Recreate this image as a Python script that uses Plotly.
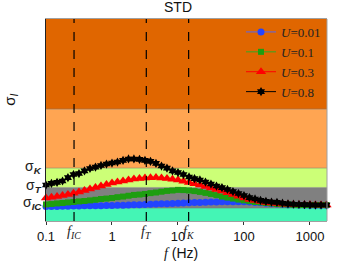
import math
import plotly.graph_objects as go

# ---------------- data ----------------
freq = [0.1, 0.121, 0.147, 0.178, 0.215, 0.261, 0.316, 0.383, 0.464, 0.562, 0.681, 0.825,
        1, 1.21, 1.47, 1.78, 2.15, 2.61, 3.16, 3.83, 4.64, 5.62, 6.81, 8.25,
        10, 12.1, 14.7, 17.8, 21.5, 26.1, 31.6, 38.3, 46.4, 56.2, 68.1, 82.5,
        100, 121, 147, 178, 215, 261, 316, 383, 464, 562, 681, 825,
        1000, 1210, 1470, 1780]

std_u001 = [0.072, 0.072, 0.072, 0.073, 0.073, 0.074,
            0.074, 0.075, 0.075, 0.076, 0.076, 0.077,
            0.077, 0.078, 0.078, 0.079, 0.080, 0.081,
            0.082, 0.083, 0.084, 0.085, 0.086, 0.087,
            0.088, 0.089, 0.090, 0.091, 0.092, 0.093,
            0.094, 0.094, 0.095, 0.095, 0.095, 0.095,
            0.095, 0.094, 0.092, 0.090, 0.088, 0.086,
            0.084, 0.083, 0.081, 0.080, 0.079, 0.079,
            0.078, 0.078, 0.078, 0.078]

std_u01 = [0.082, 0.084, 0.087, 0.089, 0.092, 0.094,
           0.097, 0.099, 0.102, 0.105, 0.109, 0.111,
           0.114, 0.118, 0.121, 0.125, 0.129, 0.131,
           0.134, 0.138, 0.141, 0.145, 0.149, 0.151,
           0.154, 0.153, 0.151, 0.148, 0.144, 0.139,
           0.134, 0.128, 0.121, 0.116, 0.111, 0.106,
           0.102, 0.098, 0.094, 0.092, 0.089, 0.087,
           0.084, 0.083, 0.082, 0.080, 0.079, 0.079,
           0.079, 0.079, 0.079, 0.079]

std_u03 = [0.114, 0.118, 0.121, 0.126, 0.131, 0.137,
           0.144, 0.151, 0.158, 0.166, 0.173, 0.181,
           0.188, 0.193, 0.198, 0.203, 0.208, 0.210,
           0.213, 0.214, 0.215, 0.213, 0.210, 0.207,
           0.203, 0.197, 0.191, 0.185, 0.178, 0.171,
           0.163, 0.156, 0.149, 0.140, 0.131, 0.123,
           0.114, 0.107, 0.102, 0.097, 0.092, 0.089,
           0.087, 0.084, 0.083, 0.082, 0.081, 0.080,
           0.080, 0.079, 0.079, 0.079]

std_u08 = [0.178, 0.186, 0.191, 0.198, 0.215, 0.230,
           0.235, 0.248, 0.260, 0.267, 0.275, 0.282,
           0.287, 0.292, 0.300, 0.307, 0.307, 0.305,
           0.300, 0.295, 0.285, 0.272, 0.262, 0.248,
           0.240, 0.230, 0.218, 0.210, 0.203, 0.193,
           0.183, 0.173, 0.165, 0.156, 0.146, 0.136,
           0.126, 0.116, 0.109, 0.102, 0.097, 0.094,
           0.092, 0.088, 0.085, 0.083, 0.082, 0.081,
           0.080, 0.079, 0.079, 0.079]

series_names = ["<i>U</i>=0.01", "<i>U</i>=0.1", "<i>U</i>=0.3", "<i>U</i>=0.8"]

# background bands: (lower, upper) levels
band_levels = [0.0, 0.064, 0.166, 0.262, 0.554, 1.0]
band_colors = ["#44F5B5", "#808080", "#CCFF77", "#FFA552", "#E06600"]

# characteristic frequencies
char_freqs = [0.266, 3.31, 14.5]
char_labels = ["<i>f</i><sub><i>IC</i></sub>", "<i>f</i><sub><i>T</i></sub>", "<i>f</i><sub><i>K</i></sub>"]

# sigma level labels
sigma_label_y = [0.268, 0.172, 0.090]
sigma_labels = ["σ<sub><b><i>K</i></b></sub>", "σ<sub><b><i>T</i></b></sub>", "σ<sub><b><i>IC</i></b></sub>"]

x_ticks = [0.1, 1, 10, 100, 1000]
x_ticklabels = ["0.1", "1", "10", "100", "1000"]

# ---------------- figure ----------------
SANS = "Liberation Sans, Arial, sans-serif"
SERIF = "Liberation Serif, Times New Roman, serif"

fig = go.Figure()

styles = [
    dict(color="#2244FF", line="#5566EE", symbol="circle", size=7),
    dict(color="#1E9E10", line="#33AA22", symbol="square", size=6),
    dict(color="#FF0000", line="#FF0000", symbol="triangle-up", size=9),
    dict(color="#000000", line="#000000", symbol="hexagram", size=7),
]
for name, ys, st in zip(series_names, [std_u001, std_u01, std_u03, std_u08], styles):
    fig.add_trace(go.Scatter(
        x=freq, y=ys, name=name, mode="lines+markers",
        line=dict(color=st["line"], width=1),
        marker=dict(color=st["color"], symbol=st["symbol"], size=st["size"], line=dict(width=0)),
        cliponaxis=False,
    ))

shapes = []
for i, col in enumerate(band_colors):
    shapes.append(dict(type="rect", xref="paper", yref="y", x0=0, x1=1,
                       y0=band_levels[i], y1=band_levels[i + 1],
                       fillcolor=col, line=dict(width=0), layer="below"))
for lvl in band_levels[1:-1]:
    shapes.append(dict(type="line", xref="paper", yref="y", x0=0, x1=1, y0=lvl, y1=lvl,
                       line=dict(color="rgba(120,120,120,0.5)", width=1), layer="below"))
for fc in char_freqs:
    shapes.append(dict(type="line", xref="x", yref="paper", x0=fc, x1=fc, y0=0, y1=1,
                       line=dict(color="black", width=1.2, dash="dash"), layer="above"))
shapes.append(dict(type="line", xref="paper", yref="paper", x0=1, x1=1, y0=0, y1=1,
                   line=dict(color="#A0A0A0", width=1)))

annotations = []
for fc, lab in zip(char_freqs, char_labels):
    annotations.append(dict(x=math.log10(fc), y=0, xref="x", yref="paper", text=lab, showarrow=False,
                            yanchor="top", yshift=-1, xanchor="center",
                            font=dict(family=SERIF, size=14, color="#222")))
for yv, lab in zip(sigma_label_y, sigma_labels):
    annotations.append(dict(x=0, y=yv, xref="paper", yref="y", text=lab, showarrow=False,
                            xanchor="right", yanchor="middle", xshift=-2,
                            font=dict(family=SANS, size=14, color="#222")))
annotations.append(dict(x=0.468, y=1, xref="paper", yref="paper", text="STD", showarrow=False,
                        yanchor="bottom", yshift=2, font=dict(family=SANS, size=14, color="#111")))
annotations.append(dict(x=-0.125, y=0.6, xref="paper", yref="paper",
                        text="σ<sub><i>I</i></sub>", showarrow=False, textangle=-90,
                        xanchor="center", yanchor="middle",
                        font=dict(family=SANS, size=15, color="#111")))
annotations.append(dict(x=0.48, y=0, xref="paper", yref="paper",
                        text="<span style='font-family:Liberation Serif'><i>f</i></span> (Hz)",
                        showarrow=False, yanchor="top", yshift=-22,
                        font=dict(family=SANS, size=14, color="#111")))

fig.update_layout(
    width=361, height=263,
    margin=dict(l=46, r=34, t=19, b=42),
    paper_bgcolor="white", plot_bgcolor="white",
    showlegend=True,
    legend=dict(x=0.694, y=1.01, xanchor="left", yanchor="top",
                bgcolor="rgba(0,0,0,0)", borderwidth=0,
                font=dict(family=SERIF, size=13, color="#222"),
                tracegroupgap=0, itemwidth=30),
    shapes=shapes, annotations=annotations,
    font=dict(family=SANS, size=13, color="#111"),
)
fig.update_xaxes(type="log", range=[-1, 3.258], tickvals=x_ticks, ticktext=x_ticklabels,
                 ticks="outside", ticklen=3, tickcolor="#333", showgrid=False, zeroline=False,
                 showline=True, linecolor="#A0A0A0", linewidth=1, mirror=True,
                 tickfont=dict(family=SANS, size=13, color="#111"))
fig.update_yaxes(range=[0, 1], showticklabels=False, ticks="", showgrid=False, zeroline=False,
                 showline=True, linecolor="#222", linewidth=1)

fig.write_html("out.html", config={"displayModeBar": False},
               post_script="document.body.style.margin='0';document.body.style.overflow='hidden';")
